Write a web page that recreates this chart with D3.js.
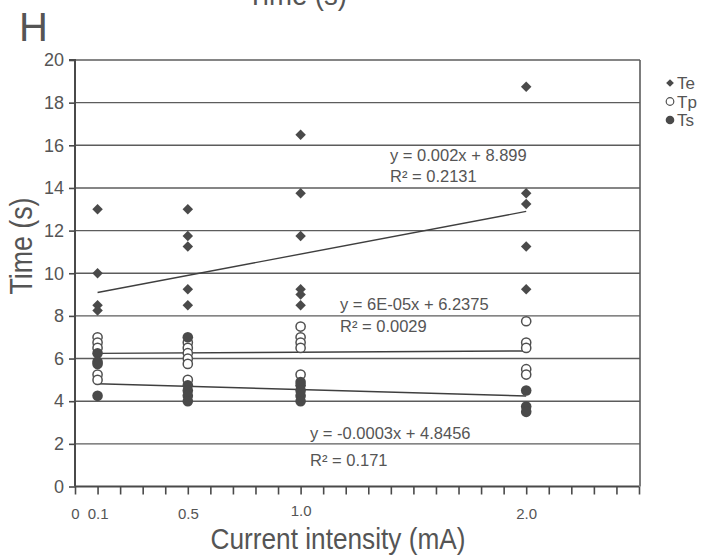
<!DOCTYPE html>
<html>
<head>
<meta charset="utf-8">
<script src="https://cdn.jsdelivr.net/npm/d3@7"></script>
<style>
  html, body { margin: 0; padding: 0; background: #fff; }
  svg { display: block; font-family: "Liberation Sans", Arial, sans-serif; }
</style>
</head>
<body>
<svg id="chart" width="703" height="555"></svg>
<script>
// ---- data ----
const currents = [100, 500, 1000, 2000];               // µA (x positions)
const teValues = [[13, 10, 8.5, 8.25],
                  [13, 11.75, 11.25, 9.25, 8.5],
                  [16.5, 13.75, 11.75, 9.25, 9, 8.5],
                  [18.75, 13.75, 13.25, 11.25, 9.25]];
const tpValues = [[7, 6.75, 6.5, 5.25, 5],
                  [6.75, 6.5, 6.25, 6, 5.75, 5],
                  [7.5, 7, 6.75, 6.5, 5.25],
                  [7.75, 6.75, 6.5, 5.5, 5.25]];
const tsValues = [[6.25, 5.85, 5.75, 4.25],
                  [7, 4.75, 4.5, 4.25, 4],
                  [4.9, 4.75, 4.5, 4.25, 4],
                  [4.5, 3.75, 3.5]];
const seriesNames = ["Te", "Tp", "Ts"];
const trendSlopes = [0.002, 0.00006, -0.0003];
const trendIntercepts = [8.899, 6.2375, 4.8456];
const trendRange = [100, 2000];
const eqLines = ["y = 0.002x + 8.899", "y = 6E-05x + 6.2375", "y = -0.0003x + 4.8456"];
const r2Lines = ["R\u00b2 = 0.2131", "R\u00b2 = 0.0029", "R\u00b2 = 0.171"];
const yTicks = [0, 2, 4, 6, 8, 10, 12, 14, 16, 18, 20];
const xMinorTicks = d3.range(0, 2501, 100);
const xLabelValues = [0, 100, 500, 1000, 2000];
const xLabelTexts = ["0", "0.1", "0.5", "1.0", "2.0"];

// ---- layout ----
const svg = d3.select("#chart");
const x = d3.scaleLinear().domain([0, 2500]).range([75, 639]);
const y = d3.scaleLinear().domain([0, 20]).range([486.5, 60]);
const ink = "#4a4a4a";
const txt = "#555";

// gridlines
svg.append("g").selectAll("line").data(yTicks.filter(d => d > 0)).join("line")
  .attr("x1", x(0)).attr("x2", 640)
  .attr("y1", d => y(d)).attr("y2", d => y(d))
  .attr("stroke", "#5c5c5c").attr("stroke-width", 1.4);
// right border
svg.append("line").attr("x1", 640).attr("x2", 640).attr("y1", y(20)).attr("y2", y(0))
  .attr("stroke", "#5c5c5c").attr("stroke-width", 1.6);

// y axis
const yAxis = svg.append("g").attr("transform", `translate(${x(0)},0)`)
  .call(d3.axisLeft(y).tickValues(yTicks).tickSize(6).tickPadding(5));
yAxis.selectAll("text").attr("font-size", 18).attr("fill", txt).attr("font-family", "Liberation Sans, Arial, sans-serif");
yAxis.selectAll("line").attr("stroke", ink).attr("stroke-width", 1.6);
yAxis.select(".domain").attr("stroke", ink).attr("stroke-width", 2).attr("d", `M-6,${y(20)}H0V${y(0)}`);

// x axis minor ticks
const xAxis = svg.append("g").attr("transform", `translate(0,${y(0)})`)
  .call(d3.axisBottom(x).tickValues(xMinorTicks).tickSize(8).tickFormat(""));
xAxis.selectAll("line").attr("stroke", ink).attr("stroke-width", 1.6);
xAxis.select(".domain").attr("stroke", ink).attr("stroke-width", 2).attr("d", `M${x(0)},0H${x(2500)}`);
// x labels
const xLab = svg.append("g").attr("transform", `translate(0,${y(0)})`)
  .call(d3.axisBottom(x).tickValues(xLabelValues).tickSize(0).tickPadding(22)
    .tickFormat(d => xLabelTexts[xLabelValues.indexOf(d)]));
xLab.select(".domain").remove();
xLab.selectAll("text").attr("font-size", 15).attr("fill", txt).attr("font-family", "Liberation Sans, Arial, sans-serif")
  .attr("y", d => d === 1000 ? 19 : 22);

// trend lines
svg.append("g").selectAll("line").data(trendSlopes).join("line")
  .attr("x1", x(trendRange[0])).attr("x2", x(trendRange[1]))
  .attr("y1", (s, i) => y(s * trendRange[0] + trendIntercepts[i]))
  .attr("y2", (s, i) => y(s * trendRange[1] + trendIntercepts[i]))
  .attr("stroke", "#3f3f3f").attr("stroke-width", 1.4);

// markers
const diamondType = { draw(ctx, size) { const r = Math.sqrt(size / 2); ctx.moveTo(0, -r); ctx.lineTo(r, 0); ctx.lineTo(0, r); ctx.lineTo(-r, 0); ctx.closePath(); } };
function flatten(vals) { const out = []; vals.forEach((arr, i) => arr.forEach(v => out.push({ x: currents[i], v }))); return out; }

svg.append("g").selectAll("path").data(flatten(teValues)).join("path")
  .attr("transform", d => `translate(${x(d.x)},${y(d.v)})`)
  .attr("d", d3.symbol().type(diamondType).size(55))
  .attr("fill", ink);
svg.append("g").selectAll("circle").data(flatten(tpValues)).join("circle")
  .attr("cx", d => x(d.x)).attr("cy", d => y(d.v)).attr("r", 4.6)
  .attr("fill", "#fff").attr("stroke", "#505050").attr("stroke-width", 1.5);
svg.append("g").selectAll("circle").data(flatten(tsValues)).join("circle")
  .attr("cx", d => x(d.x)).attr("cy", d => y(d.v)).attr("r", 5.3)
  .attr("fill", ink);

// equations
const eqPos = [[390, 161, 182], [340, 310, 332], [310, 439, 466]];
eqLines.forEach((t, i) => {
  svg.append("text").attr("x", eqPos[i][0]).attr("y", eqPos[i][1]).text(t)
    .attr("font-size", 16.5).attr("fill", txt);
  svg.append("text").attr("x", eqPos[i][0]).attr("y", eqPos[i][2]).text(r2Lines[i])
    .attr("font-size", 16.5).attr("fill", txt);
});

// legend
const legY = [83, 101.5, 120];
const leg = svg.append("g");
leg.append("path").attr("transform", `translate(670,${legY[0]})`).attr("d", d3.symbol().type(diamondType).size(30)).attr("fill", ink);
leg.append("circle").attr("cx", 670).attr("cy", legY[1]).attr("r", 3.8).attr("fill", "#fff").attr("stroke", "#505050").attr("stroke-width", 1.2);
leg.append("circle").attr("cx", 670).attr("cy", legY[2]).attr("r", 4.3).attr("fill", ink);
seriesNames.forEach((n, i) => {
  leg.append("text").attr("x", 677).attr("y", legY[i]).attr("dy", "0.36em").text(n)
    .attr("font-size", 17).attr("fill", txt);
});

// titles
svg.append("text").attr("x", 19).attr("y", 41).text("H").attr("font-size", 40).attr("fill", txt);
svg.append("text").attr("x", 247).attr("y", 5).text("Time (s)")
  .attr("font-size", 30).attr("textLength", 100).attr("lengthAdjust", "spacingAndGlyphs").attr("fill", txt);
svg.append("text").attr("transform", "translate(32,246) rotate(-90)").attr("text-anchor", "middle")
  .text("Time (s)").attr("font-size", 31).attr("textLength", 97).attr("lengthAdjust", "spacingAndGlyphs").attr("fill", txt);
svg.append("text").attr("x", 338).attr("y", 549).attr("text-anchor", "middle")
  .text("Current intensity (mA)").attr("font-size", 30).attr("textLength", 255).attr("lengthAdjust", "spacingAndGlyphs").attr("fill", txt);
</script>
</body>
</html>
